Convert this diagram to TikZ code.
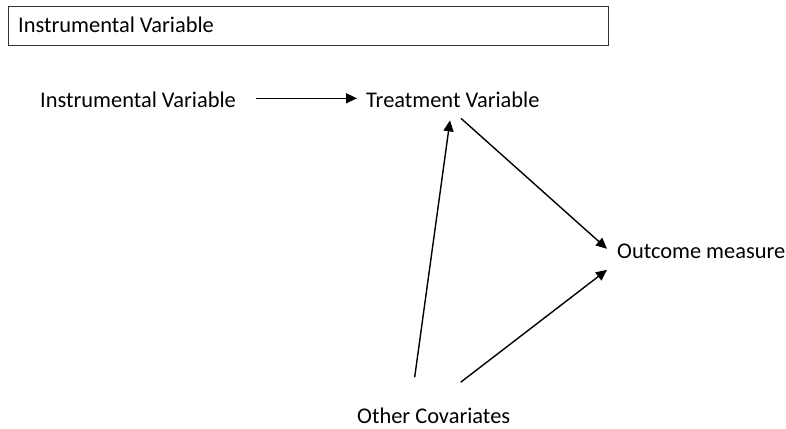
\documentclass[tikz,border=0pt]{standalone}
\usepackage{fontspec}
\setmainfont{Carlito}
\usetikzlibrary{arrows.meta}

\begin{document}
\begin{tikzpicture}[x=1pt,y=-1pt,
    lbl/.style={inner sep=0pt,anchor=base west,font=\fontsize{22.4}{26}\selectfont},
    arr/.style={line width=1.4pt,-{Triangle[length=11pt,width=10pt]}}]
    \useasboundingbox (0,0) rectangle (786,428);

    \draw[line width=1pt,black!80] (8,7) rectangle (608,46);
    \node[lbl] (title) at (18,33) {Instrumental Variable};

    \node[lbl] (iv) at (40,107) {Instrumental Variable};
    \node[lbl] (tv) at (366,107) {Treatment Variable};
    \node[lbl] (om) at (617,258) {Outcome measure};
    \node[lbl] (cov) at (357,423) {Other Covariates};

    \draw[arr] ([xshift=20pt,yshift=1pt]iv.east) -- ([xshift=-9pt,yshift=1pt]tv.west);
    \draw[arr] ([xshift=-19pt,yshift=30pt]cov.north) -- ([xshift=84pt,yshift=-13pt]tv.south west);
    \draw[arr] ([xshift=95pt,yshift=-11pt]tv.south west) -- ([xshift=-10pt,yshift=2pt]om.west);
    \draw[arr] ([xshift=27pt,yshift=25pt]cov.north) -- ([xshift=-10pt,yshift=-19pt]om.west);
\end{tikzpicture}
\end{document}
